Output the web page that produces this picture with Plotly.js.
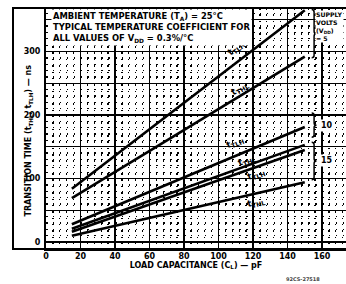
<!DOCTYPE html>
<html><head><meta charset="utf-8">
<script src="https://cdn.plot.ly/plotly-3.0.1.min.js"></script>
<style>html,body{margin:0;padding:0;background:#fff}#chart{width:346px;height:284px}</style>
</head><body><div id="chart"></div>
<script>
// ---- data ----
const loadCapacitance = [15, 150];          // pF
const vdd5_tTLH  = [84, 365];               // ns
const vdd5_tTHL  = [69, 292];
const vdd10_tTLH = [28, 181];
const vdd10_tTHL = [21, 153];
const vdd15_tTLH = [16, 145];
const vdd15_tTHL = [10, 94];
const xTickVals = [0, 20, 40, 60, 80, 100, 120, 140, 160];
const yTickVals = [0, 100, 200, 300];
const supplyVolts = ["5", "10", "15"];

const FONT = {family: "DejaVu Sans", size: 8, color: "#000", weight: "bold"};
const series = [
  {name: "5 V tTLH", y: vdd5_tTLH},
  {name: "5 V tTHL", y: vdd5_tTHL},
  {name: "10 V tTLH", y: vdd10_tTLH},
  {name: "10 V tTHL", y: vdd10_tTHL},
  {name: "15 V tTLH", y: vdd15_tTLH},
  {name: "15 V tTHL", y: vdd15_tTHL}
];
const traces = series.map(s => ({
  type: "scatter", mode: "lines", name: s.name,
  x: loadCapacitance, y: s.y,
  line: {color: "#000", width: 2.6}, hoverinfo: "skip"
}));

// curly bracket "}" path in data coords
function brace(x, yTop, yBot, w, d) {
  const ym = (yTop + yBot) / 2;
  return `M ${x},${yTop} Q ${x+w},${yTop} ${x+w},${yTop-d} L ${x+w},${ym+d} Q ${x+w},${ym} ${x+2*w},${ym} ` +
         `Q ${x+w},${ym} ${x+w},${ym-d} L ${x+w},${yBot+d} Q ${x+w},${yBot} ${x},${yBot}`;
}
const braceSpecs = [[154, 366, 290], [154, 203, 165], [154, 157, 98]];
const shapes = braceSpecs.map(b => ({
  type: "path", xref: "x", yref: "y", path: brace(b[0], b[1], b[2], 1.4, 4),
  line: {color: "#000", width: 1.5}
}));
shapes.push({type: "rect", xref: "paper", yref: "paper", x0: -0.11, x1: 1.2, y0: 0, y1: 1,
  line: {color: "#000", width: 2}, fillcolor: "rgba(0,0,0,0)"});

const lab = (text, x, y, ang) => ({text, x, y, xref: "x", yref: "y", textangle: ang,
  showarrow: false, font: {...FONT, size: 9}});
const annotations = [
  lab("t<sub>TLH</sub>", 110, 305, -38),
  lab("t<sub>THL</sub>", 112.5, 241, -31),
  lab("t<sub>TLH</sub>", 109.6, 157, -22),
  lab("t<sub>THL</sub>", 116.5, 128, -20),
  lab("t<sub>TLH</sub>", 122, 107, -19),
  lab("t<sub>THL</sub>", 122, 63, -13),
  {text: "AMBIENT TEMPERATURE (T<sub>A</sub>) = 25°C<br>TYPICAL TEMPERATURE COEFFICIENT FOR<br>ALL VALUES OF V<sub>DD</sub> = 0.3%/°C",
   xref: "paper", yref: "paper", x: 0.017, y: 0.995, xanchor: "left", yanchor: "top", align: "left",
   showarrow: false, bgcolor: "#fff", borderpad: 1, font: {...FONT, size: 8.4}},
  {text: "SUPPLY<br>VOLTS<br>(V<sub>DD</sub>)<br>= " + supplyVolts[0],
   xref: "paper", yref: "paper", x: 0.898, y: 0.99, xanchor: "left", yanchor: "top", align: "left",
   showarrow: false, bgcolor: "#fff", borderpad: 0, font: {...FONT, size: 6.2}},
  {text: supplyVolts[1], xref: "x", yref: "y", x: 158, y: 184, xanchor: "left", showarrow: false,
   bgcolor: "#fff", font: FONT},
  {text: supplyVolts[2], xref: "x", yref: "y", x: 158, y: 128, xanchor: "left", showarrow: false,
   bgcolor: "#fff", font: FONT},
  {text: "TRANSITION TIME (t<sub>THL</sub>, t<sub>TLH</sub>) — ns", xref: "paper", yref: "paper",
   x: -0.08, y: 0.45, textangle: -90, showarrow: false, font: FONT},
  {text: "92CS-27518", xref: "paper", yref: "paper", x: 0.92, y: -0.145, showarrow: false,
   font: {family: "DejaVu Sans", size: 5, color: "#444"}}
];

const layout = {
  width: 346, height: 284,
  margin: {l: 46, r: 0, t: 8, b: 35},
  paper_bgcolor: "#fff", plot_bgcolor: "#fff",
  showlegend: false, font: FONT,
  xaxis: {
    range: [0, 173.9], tickmode: "array", tickvals: xTickVals, ticks: "",
    showgrid: true, gridcolor: "#000", gridwidth: 1.6,
    showline: true, linecolor: "#000", linewidth: 2, zeroline: false,
    tickfont: FONT, ticklabelstandoff: -2,
    minor: {dtick: 4, tick0: 0, showgrid: true, gridcolor: "#000", gridwidth: 1.3, griddash: "1.5px,4.85px"},
    title: {text: "LOAD CAPACITANCE (C<sub>L</sub>) — pF", font: FONT, standoff: 0}
  },
  yaxis: {
    range: [-11, 368.5], tickmode: "array", tickvals: yTickVals, ticks: "",
    showgrid: true, gridcolor: "rgba(0,0,0,0)", gridwidth: 1.4,
    showline: true, linecolor: "#000", linewidth: 2, zeroline: false,
    tickfont: FONT, ticklabelstandoff: 2,
    minor: {dtick: 10, tick0: 0, showgrid: true, gridcolor: "#000", gridwidth: 1.3, griddash: "1.5px,5.4px"}
  },
  yaxis2: {overlaying: "y", range: [-11, 368.5], dtick: 50, tick0: 0, showgrid: true,
    gridcolor: "#000", gridwidth: 1.4, showticklabels: false, ticks: "", zeroline: false},
  shapes, annotations
};
traces.push({type: "scatter", mode: "lines", x: [], y: [], yaxis: "y2", hoverinfo: "skip"});
Plotly.newPlot("chart", traces, layout, {staticPlot: true});
</script></body></html>
